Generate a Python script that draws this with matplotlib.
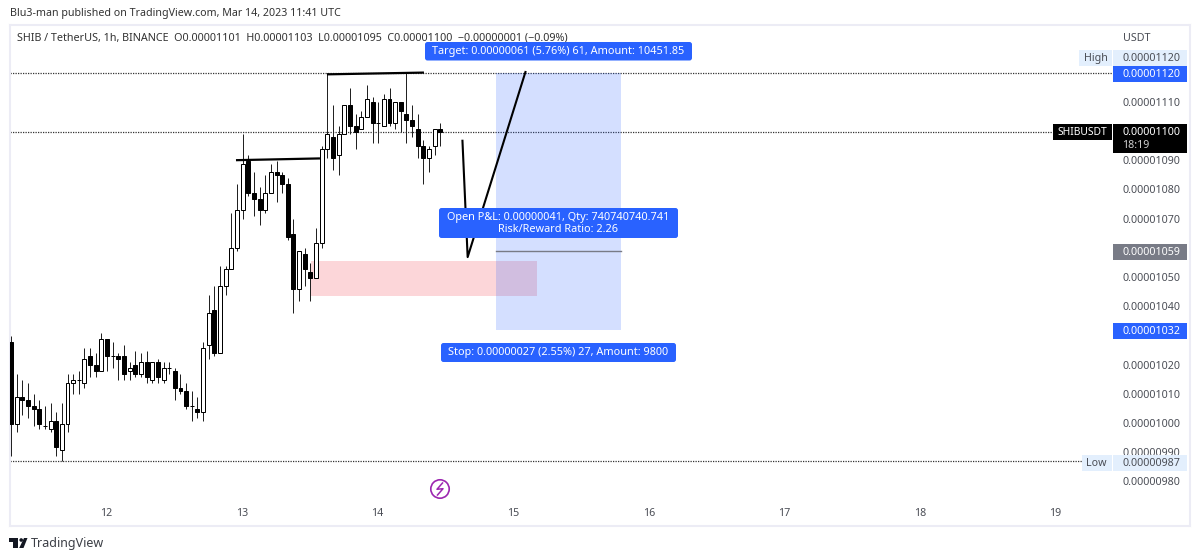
import matplotlib
matplotlib.use("Agg")
import matplotlib.pyplot as plt
from matplotlib.patches import FancyBboxPatch, Rectangle, Circle, Polygon

plt.rcParams['font.family'] = ['Noto Sans', 'DejaVu Sans']

# price data in units of 1e-8 USDT, hourly candles
opens = [1028,1000,1009,1008,1006,1005,999,998,1001,991,1000,1014,1015,1014,1023,1020,1018,1029,1023,1023,
         1023,1018,1020,1017,1021,1015,1021,1015,1019,1018,1012,1011,1006,1005,1004,1027,1039,1024,1047,1053,
         1060,1073,1090,1079,1077,1073,1079,1086,1085,1082,1065,1046,1058,1052,1050,1062,1094,1098,1092,1099,
         1109,1102,1101,1105,1110,1103,1102,1111,1103,1110,1106,1104,1101,1095,1091,1095,1101]
highs = [1030,1017,1015,1014,1010,1008,1006,1007,1004,1007,1017,1017,1018,1026,1026,1024,1031,1029,1028,1024,
         1027,1021,1025,1024,1025,1021,1022,1021,1021,1019,1017,1014,1011,1009,1028,1044,1047,1054,1054,1072,
         1082,1099,1092,1086,1081,1085,1089,1090,1086,1084,1070,1059,1060,1055,1067,1095,1120,1109,1102,1109,
         1115,1106,1107,1116,1112,1110,1113,1115,1110,1110,1120,1109,1106,1097,1095,1101,1103]
lows = [989,997,1003,1002,999,998,998,997,989,987,997,1010,1010,1012,1016,1016,1018,1018,1019,1015,
        1015,1015,1016,1016,1014,1014,1014,1014,1017,1008,1010,1005,1001,1002,1001,1022,1023,1024,1044,1053,
        1059,1070,1078,1071,1068,1072,1079,1076,1079,1063,1038,1042,1047,1042,1050,1060,1091,1087,1085,1099,
        1099,1094,1101,1105,1096,1096,1102,1102,1101,1100,1096,1098,1091,1082,1086,1092,1095]
closes = [1000,1009,1008,1006,1005,1000,999,1001,992,1000,1014,1015,1015,1022,1020,1018,1029,1023,1023,1022,
          1017,1019,1017,1021,1016,1021,1016,1019,1019,1012,1011,1006,1006,1004,1026,1038,1024,1047,1053,1060,
          1073,1089,1079,1077,1073,1079,1086,1085,1082,1064,1046,1059,1053,1050,1062,1094,1099,1091,1099,1109,
          1102,1100,1105,1111,1103,1103,1111,1103,1110,1107,1104,1102,1095,1091,1094,1101,1100]

price_ticks = [980,990,1000,1010,1020,1030,1040,1050,1070,1080,1090,1110]
day_positions = [17,41,65,89,113,137,161,185]
day_labels = ['12','13','14','15','16','17','18','19']

high_level = 1120
low_level = 987
last_price = 1100
target_level = 1120
entry_level = 1059
stop_level = 1032
zone_top = 1055.8
zone_bottom = 1043.7
arrow_prices = [1096.85, 1057.0, 1120.4]

title = "Blu3-man published on TradingView.com, Mar 14, 2023 11:41 UTC"
header = "SHIB / TetherUS, 1h, BINANCE  O0.00001101  H0.00001103  L0.00001095  C0.00001100  \u22120.00000001 (\u22120.09%)"
target_text = "Target: 0.00000061 (5.76%) 61, Amount: 10451.85"
pnl_text = "Open P&L: 0.00000041, Qty: 740740740.741\nRisk/Reward Ratio: 2.26"
stop_text = "Stop: 0.00000027 (2.55%) 27, Amount: 9800"

def fmt(p):
    return f"{p/1e8:.8f}"

BLUE = '#2962ff'
LIGHT = '#e3effd'
TICK = '#4a4d55'

fig = plt.figure(figsize=(12, 5.6), dpi=100, facecolor='white')
W, H = 1200, 560
L, R, T, B = 10, 1190, 25, 526
ax = fig.add_axes([L/W, 1-B/H, (R-L)/W, (B-T)/H])
ax.set_xlim(-0.18, 208.7)
ax.set_ylim(964.9, 1136.5)
ax.set_xticks([]); ax.set_yticks([])
for s in ax.spines.values():
    s.set_color('#ecECF5'); s.set_linewidth(1.5)

# overlay in pixel coordinates for labels
ov = fig.add_axes([0, 0, 1, 1], zorder=5)
ov.set_xlim(0, W); ov.set_ylim(H, 0); ov.axis('off'); ov.patch.set_alpha(0)

# candles
idx = list(range(len(opens)))
ax.vlines(idx, lows, highs, color='#222222', lw=0.72, zorder=3)
bottoms = [min(o, c) for o, c in zip(opens, closes)]
heights = [abs(o-c) for o, c in zip(opens, closes)]
colors = ['white' if c >= o else 'black' for o, c in zip(opens, closes)]
ax.bar(idx, heights, bottom=bottoms, width=0.7, color=colors, edgecolor='black', linewidth=0.72, zorder=4)

def xi(px):
    return (px-11)/5.65

# levels
for lvl, end in [(high_level, 1112), (last_price, 1112), (low_level, 1082)]:
    ax.plot([xi(10), xi(end)], [lvl, lvl], color='#333333', lw=0.9, ls=(0, (1, 1)), zorder=2)

# zone and position tool
ax.add_patch(Rectangle((xi(311), zone_bottom), xi(537)-xi(311), zone_top-zone_bottom,
                       facecolor='#f23645', alpha=0.2, lw=0, zorder=2.5))
ax.add_patch(Rectangle((xi(496), stop_level), xi(621)-xi(496), target_level-stop_level,
                       facecolor=BLUE, alpha=0.2, lw=0, zorder=5))
ax.plot([xi(496), xi(621)], [entry_level, entry_level], color='#787b86', lw=1.0, zorder=6)

# hand drawn lines
ax.plot([xi(327), xi(424)], [1119.6, 1120.2], color='black', lw=1.6, zorder=7, solid_capstyle='butt')
ax.plot([xi(236), xi(320)], [1090.2, 1090.8], color='black', lw=1.6, zorder=7, solid_capstyle='butt')
ax.plot([xi(462.5), xi(467.7), xi(525.5)], arrow_prices, color='black', lw=1.5, zorder=7)

def box(x0, y0, x1, y1, fc, rad=0, zorder=2):
    if rad:
        ov.add_patch(FancyBboxPatch((x0+rad, y0+rad), x1-x0-2*rad, y1-y0-2*rad,
                                    boxstyle=f"round,pad={rad},rounding_size={rad}", fc=fc, ec='none', zorder=zorder))
    else:
        ov.add_patch(Rectangle((x0, y0), x1-x0, y1-y0, fc=fc, ec='none', zorder=zorder))

def pix_y(p):
    return 132.5 + (1100-p)*2.92

FS = 7.7
# top texts
ov.text(10, 13.5, title, fontsize=7.7, color='#333333', va='center', ha='left', zorder=1)
ov.text(17, 38, header, fontsize=7.75, color='#333333', va='center', ha='left', zorder=1)

# labels on the chart
box(425, 42, 692, 60.5, BLUE, 2.5, 3)
ov.text(558.5, 51.5, target_text, color='white', fontsize=7.85, ha='center', va='center', zorder=4)
box(439, 208, 678, 238, BLUE, 2.5, 3)
ov.text(558.5, 223.5, pnl_text, color='white', fontsize=7.85, ha='center', va='center', zorder=4, linespacing=1.05)
box(441, 343, 676, 362, BLUE, 2.5, 3)
ov.text(558.5, 353, stop_text, color='white', fontsize=7.85, ha='center', va='center', zorder=4)

# price scale
ov.text(1122.5, 38.5, 'USDT', fontsize=FS, color=TICK, va='center', ha='left')
for p in price_ticks:
    ov.text(1122.5, pix_y(p), fmt(p), fontsize=FS, color=TICK, va='center', ha='left', zorder=2)
for x, lab in zip(day_positions, day_labels):
    ov.text(11+5.65*x-0.7, 513.5, lab, fontsize=FS, color=TICK, va='center', ha='center')

box(1079, 50, 1112, 65.7, LIGHT)
box(1113, 50, 1187, 65.7, LIGHT)
ov.text(1096, 58.5, 'High', fontsize=FS, color=TICK, va='center', ha='center', zorder=3)
ov.text(1122.5, 58.7, fmt(high_level), fontsize=FS, color=TICK, va='center', ha='left', zorder=3)
box(1113, 66, 1187, 81.7, BLUE, 0, 3)
ov.text(1122.5, 74.5, fmt(target_level), fontsize=FS, color='white', va='center', ha='left', zorder=4)

box(1053, 124, 1112, 140, 'black', 0, 3)
ov.text(1082.5, 132.7, 'SHIBUSDT', fontsize=7.4, color='white', va='center', ha='center', zorder=4)
box(1113, 124, 1187, 153, 'black', 0, 3)
ov.text(1122.5, 132.7, fmt(last_price), fontsize=FS, color='white', va='center', ha='left', zorder=4)
ov.text(1122.5, 146, '18:19', fontsize=FS, color='#d0d0d0', va='center', ha='left', zorder=4)

box(1113, 244, 1187, 260, '#787b86', 0, 3)
ov.text(1122.5, 252.7, fmt(entry_level), fontsize=FS, color='white', va='center', ha='left', zorder=4)
box(1113, 323.3, 1187, 338.7, BLUE, 0, 3)
ov.text(1122.5, 331.7, fmt(stop_level), fontsize=FS, color='white', va='center', ha='left', zorder=4)

box(1081.7, 455, 1112, 470.7, LIGHT, 0, 3)
box(1113, 455, 1187, 470.7, LIGHT, 0, 3)
ov.text(1096.5, 463.7, 'Low', fontsize=FS, color=TICK, va='center', ha='center', zorder=4)
ov.text(1122.5, 463.7, fmt(low_level), fontsize=FS, color=TICK, va='center', ha='left', zorder=4)

# purple flash icon
ov.add_patch(Circle((440, 489), 9.2, fc='white', ec='#9c27b0', lw=1.2, zorder=3))
ov.plot([442.5, 437, 443, 437.5], [483, 489.3, 488.7, 495], color='#9c27b0', lw=1.1, zorder=4)

# logo
ov.add_patch(Polygon([(9.3, 538), (18, 538), (18, 548), (13, 548), (13, 541.5), (9.3, 541.5)], fc='#131722', ec='none'))
ov.add_patch(Circle((21.2, 540), 1.8, fc='#131722', ec='none'))
ov.add_patch(Polygon([(24, 538), (27.5, 538), (23.5, 548), (19.2, 548)], fc='#131722', ec='none'))
ov.text(31, 544, 'TradingView', fontsize=9.0, color='#3c3f46', va='center', ha='left')

fig.savefig('out.png', dpi=100, facecolor='white')
